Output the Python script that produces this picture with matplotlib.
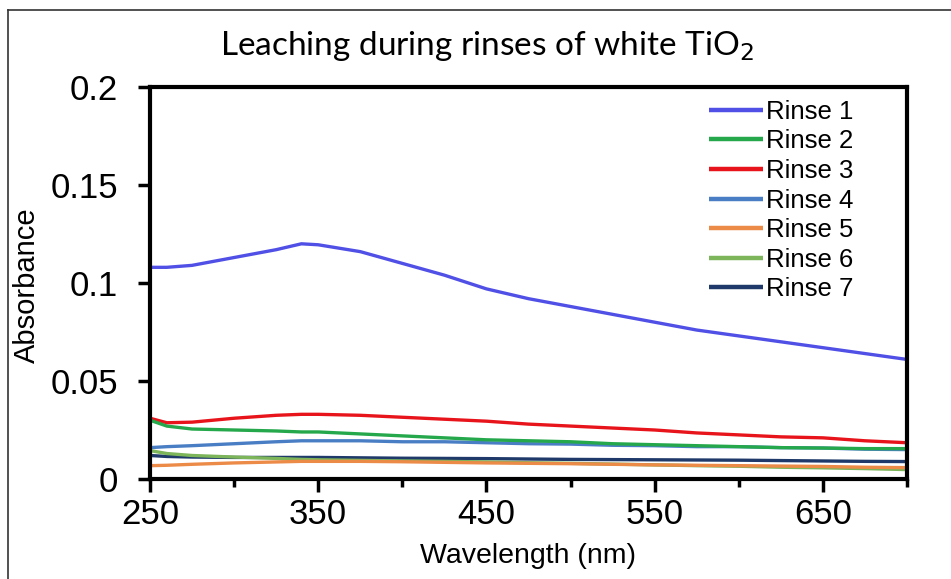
import matplotlib
matplotlib.use("Agg")
import matplotlib.pyplot as plt
from matplotlib.lines import Line2D
from matplotlib.ticker import FixedLocator

wavelength = [250, 260, 275, 300, 325, 340, 350, 375, 400, 425, 450, 475, 500,
              525, 550, 575, 600, 625, 650, 675, 700]

rinse1 = [0.108, 0.108, 0.109, 0.113, 0.117, 0.120, 0.1195, 0.116, 0.110, 0.104, 0.097,
          0.092, 0.088, 0.084, 0.080, 0.076, 0.073, 0.070, 0.067, 0.064, 0.061]
rinse2 = [0.030, 0.027, 0.0255, 0.025, 0.0245, 0.024, 0.024, 0.023, 0.022, 0.021, 0.020,
          0.0195, 0.019, 0.018, 0.0175, 0.017, 0.0165, 0.016, 0.0158, 0.0155, 0.0155]
rinse3 = [0.031, 0.0287, 0.029, 0.031, 0.0325, 0.033, 0.033, 0.0325, 0.0315, 0.0305, 0.0295,
          0.028, 0.027, 0.026, 0.025, 0.0235, 0.0225, 0.0215, 0.021, 0.0195, 0.0185]
rinse4 = [0.016, 0.0165, 0.017, 0.018, 0.019, 0.0195, 0.0195, 0.0195, 0.019, 0.019, 0.0185,
          0.018, 0.0178, 0.0172, 0.017, 0.0165, 0.0165, 0.016, 0.0158, 0.0152, 0.015]
rinse5 = [0.0068, 0.007, 0.0075, 0.0082, 0.0087, 0.009, 0.009, 0.009, 0.0088, 0.0085, 0.0082,
          0.008, 0.0078, 0.0075, 0.0072, 0.007, 0.0068, 0.0066, 0.0064, 0.006, 0.0058]
rinse6 = [0.0145, 0.013, 0.012, 0.0112, 0.0105, 0.010, 0.0098, 0.0095, 0.0092, 0.009, 0.0087,
          0.0083, 0.008, 0.0076, 0.0072, 0.0068, 0.0065, 0.006, 0.0057, 0.0053, 0.0048]
rinse7 = [0.012, 0.0115, 0.0112, 0.011, 0.011, 0.011, 0.011, 0.0108, 0.0106, 0.0105, 0.0104,
          0.0102, 0.010, 0.0099, 0.0098, 0.0097, 0.0096, 0.0094, 0.0092, 0.009, 0.0089]

series_names = ["Rinse 1", "Rinse 2", "Rinse 3", "Rinse 4", "Rinse 5", "Rinse 6", "Rinse 7"]
series_values = [rinse1, rinse2, rinse3, rinse4, rinse5, rinse6, rinse7]
colors = ["#5050E6", "#25A84C", "#E8141C", "#4A7EC4", "#EC8A48", "#7DB55A", "#1F3A6A"]

x_major = [250, 350, 450, 550, 650]
x_minor = [300, 400, 500, 600, 700]
y_ticks = [0, 0.05, 0.1, 0.15, 0.2]
y_labels = ["0", "0.05", "0.1", "0.15", "0.2"]

plt.rcParams['font.family'] = ['Liberation Sans', 'DejaVu Sans']

fig = plt.figure(figsize=(9.51, 5.79), dpi=100)
ax = fig.add_axes([150/951, 1-479/579, (907-150)/951, (479-87)/579])

# draw from last to first so Rinse 1..3 sit on top
for name, vals, col in reversed(list(zip(series_names, series_values, colors))):
    ax.plot(wavelength, vals, color=col, lw=2.4, label=name, solid_capstyle='butt')

ax.set_xlim(250, 700)
ax.set_ylim(0, 0.2)
ax.xaxis.set_major_locator(FixedLocator(x_major))
ax.xaxis.set_minor_locator(FixedLocator(x_minor))
ax.set_yticks(y_ticks)
ax.set_yticklabels(y_labels)

for s in ax.spines.values():
    s.set_linewidth(3)
ax.tick_params(which='major', direction='out', length=9, width=2.5, labelsize=25, pad=5)
ax.tick_params(which='minor', direction='out', length=6, width=2.5)
ax.tick_params(axis='y', which='major', pad=14)

ax.set_xlabel("Wavelength (nm)", fontsize=20.5, labelpad=8)
fig.text(27/951, 1-285/579, "Absorbance", rotation=90, fontsize=21, ha='center', va='center')

fig.text(487/951, 1-46/579, "Leaching during rinses of white TiO$_2$", fontsize=24,
         family=['Lato', 'DejaVu Sans'], ha='center', va='center')

handles, labels = ax.get_legend_handles_labels()
handles, labels = handles[::-1], labels[::-1]
leg = ax.legend(handles, labels, loc='upper left', bbox_to_anchor=(0.738, 0.968),
                frameon=False, fontsize=18.5, handlelength=2.1, handletextpad=0.15,
                labelspacing=0.22, borderpad=0, borderaxespad=0)
for h in leg.get_lines():
    h.set_linewidth(3.2)

# outer figure frame (cut at right and bottom)
fig.add_artist(Line2D([8/951, 8/951], [0, 1-10/579], transform=fig.transFigure,
                      color='#333333', lw=1.2))
fig.add_artist(Line2D([8/951, 1], [1-10/579, 1-10/579], transform=fig.transFigure,
                      color='#333333', lw=1.2))

fig.savefig("out.png", dpi=100)
